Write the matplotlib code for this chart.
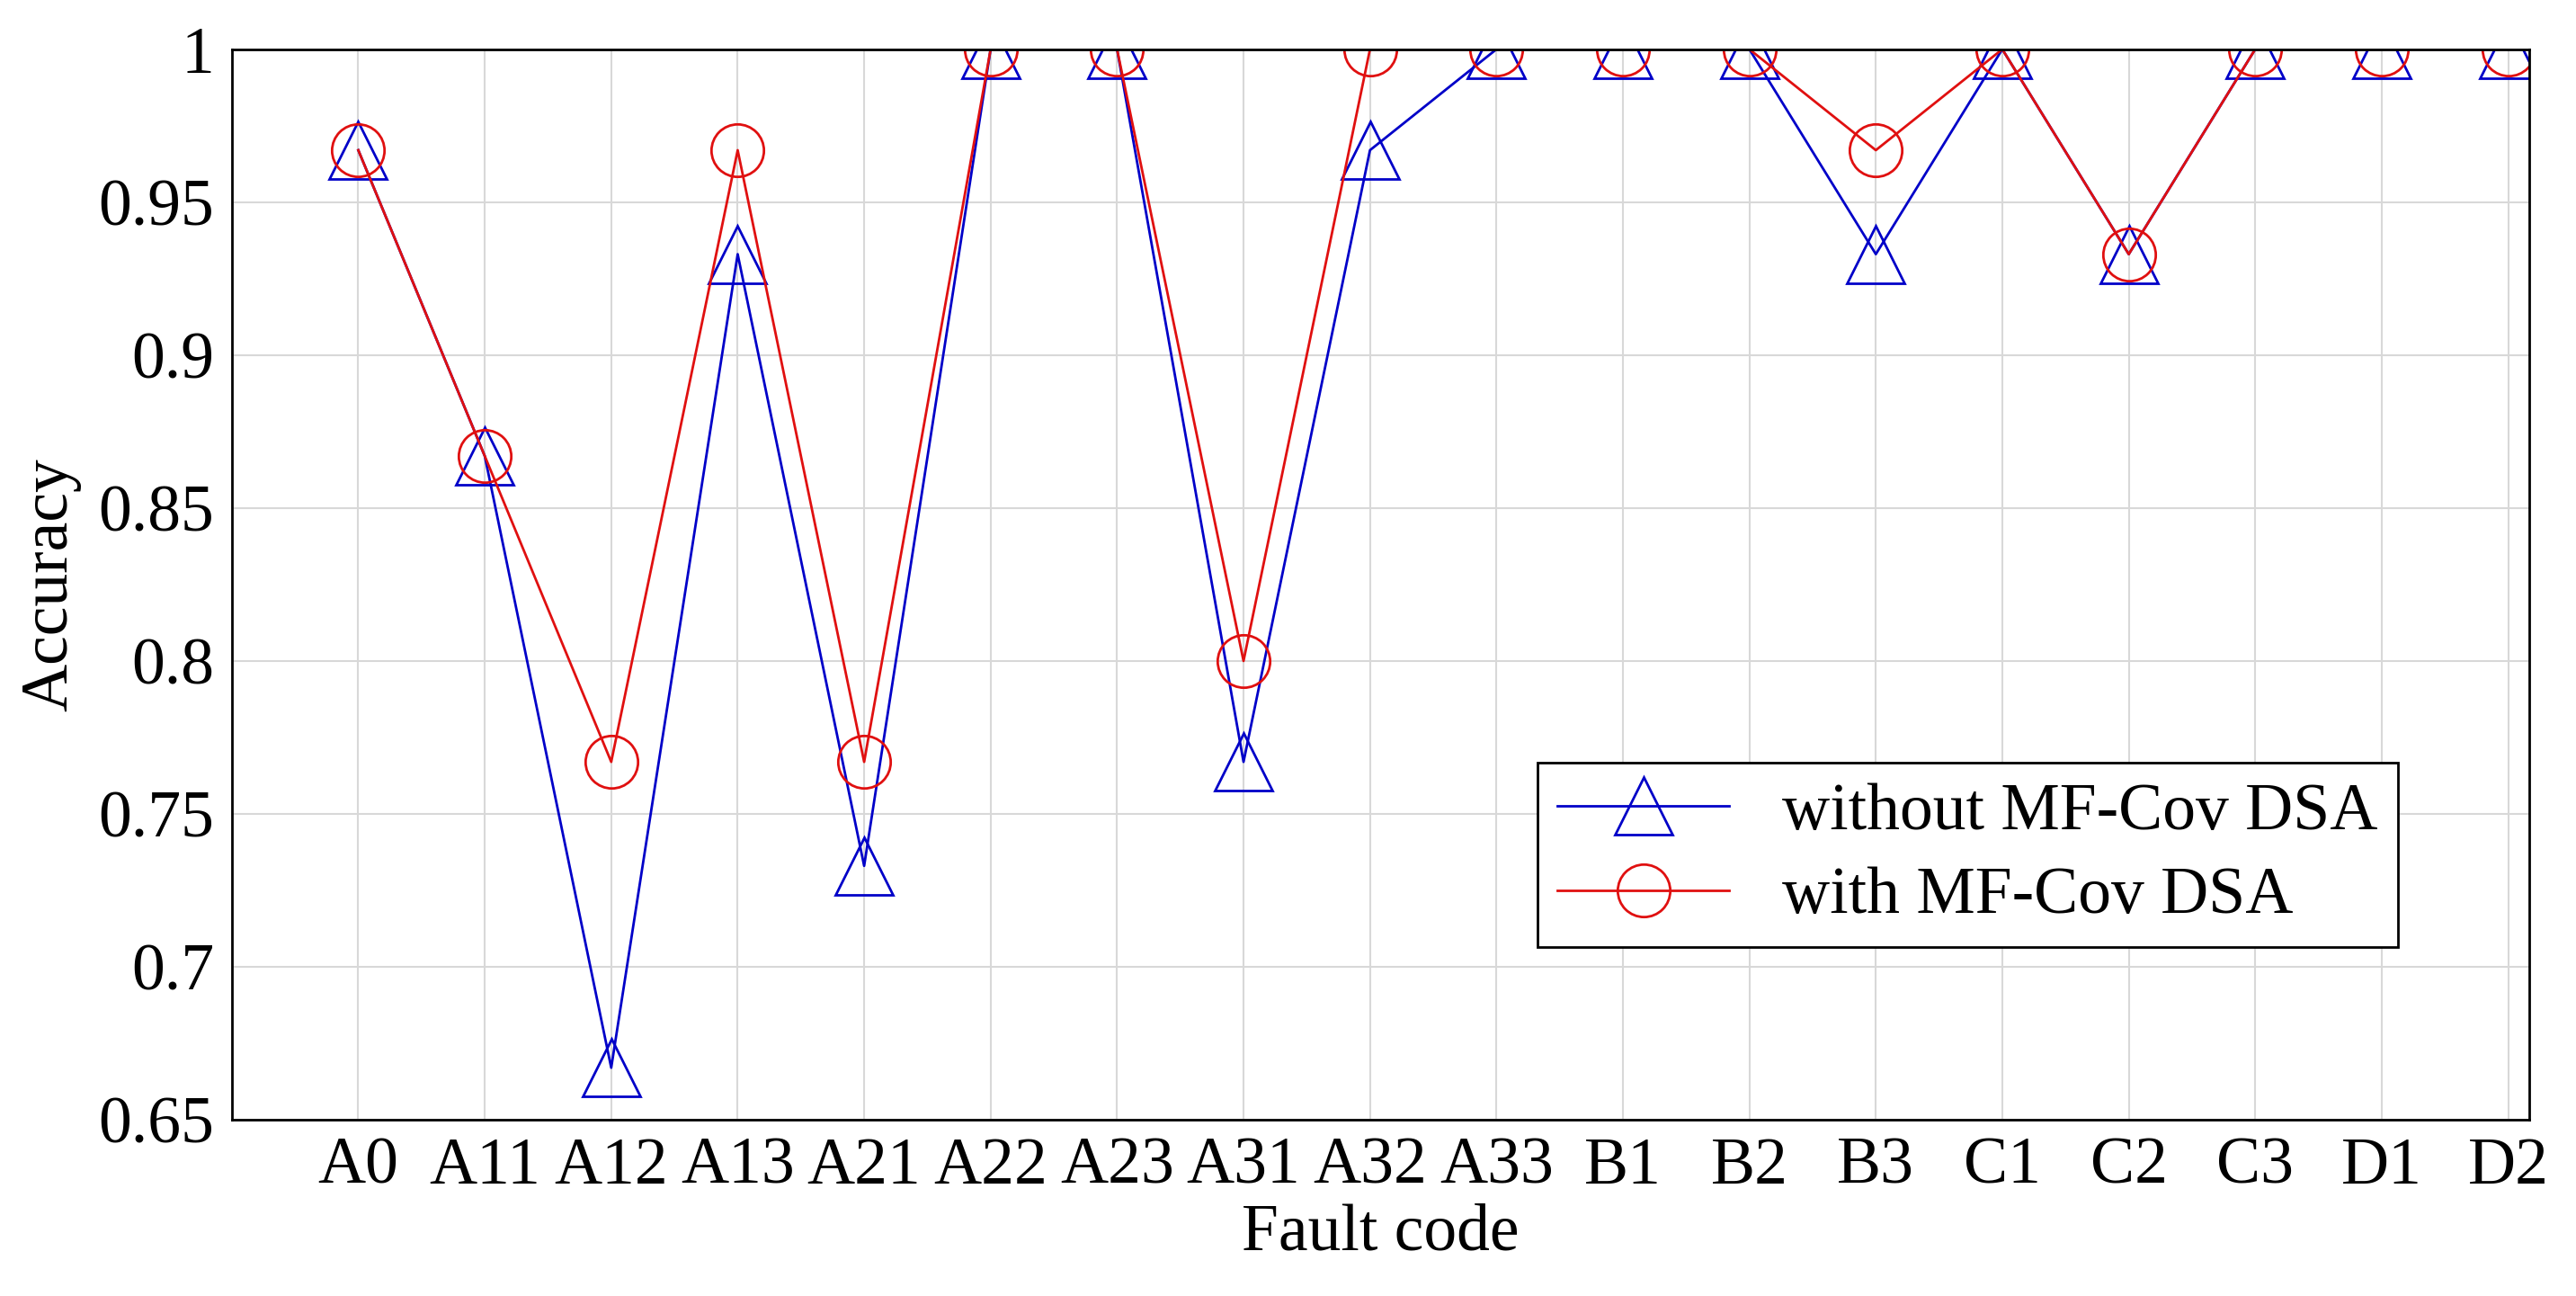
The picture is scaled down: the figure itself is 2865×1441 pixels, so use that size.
import matplotlib
matplotlib.use("Agg")
import matplotlib.pyplot as plt

codes = ["A0","A11","A12","A13","A21","A22","A23","A31","A32","A33","B1","B2","B3","C1","C2","C3","D1","D2"]
without_dsa = [0.967,0.867,0.667,0.933,0.733,1,1,0.767,0.967,1,1,1,0.933,1,0.933,1,1,1]
with_dsa = [0.967,0.867,0.767,0.967,0.767,1,1,0.8,1,1,1,1,0.967,1,0.933,1,1,1]

plt.rcParams['font.family'] = ['Liberation Serif', 'DejaVu Serif']
fig = plt.figure(figsize=(28.65, 14.41), dpi=100)
ax = fig.add_axes([0.09, 0.136, 0.892, 0.826])
x = list(range(len(codes)))
ax.plot(x, without_dsa, color='#0000c8', lw=2, marker='^', ms=46, mfc='none', mew=2, label='without MF-Cov DSA')
ax.plot(x, with_dsa, color='#e01010', lw=2, marker='o', ms=42, mfc='none', mew=2, label='with MF-Cov DSA')
ax.set_xlim(-1, 17.17)
ax.set_ylim(0.65, 1)
ax.set_xticks(x)
ax.set_xticklabels(codes)
ax.set_yticks([0.65,0.7,0.75,0.8,0.85,0.9,0.95,1])
ax.set_yticklabels(["0.65","0.7","0.75","0.8","0.85","0.9","0.95","1"])
ax.grid(True, color='#d8d8d8', lw=1.5)
ax.tick_params(labelsize=53, length=0, pad=14)
for s in ax.spines.values():
    s.set_linewidth(2)
ax.set_xlabel("Fault code", fontsize=53, labelpad=4)
ax.set_ylabel("Accuracy", fontsize=53, labelpad=14)
leg = ax.legend(loc='lower right', bbox_to_anchor=(0.957, 0.13), fontsize=53, fancybox=False,
                edgecolor='black', framealpha=1, handlelength=2.6, borderpad=0.3, labelspacing=0.35)
leg.get_frame().set_linewidth(2)
fig.savefig("out.png")
